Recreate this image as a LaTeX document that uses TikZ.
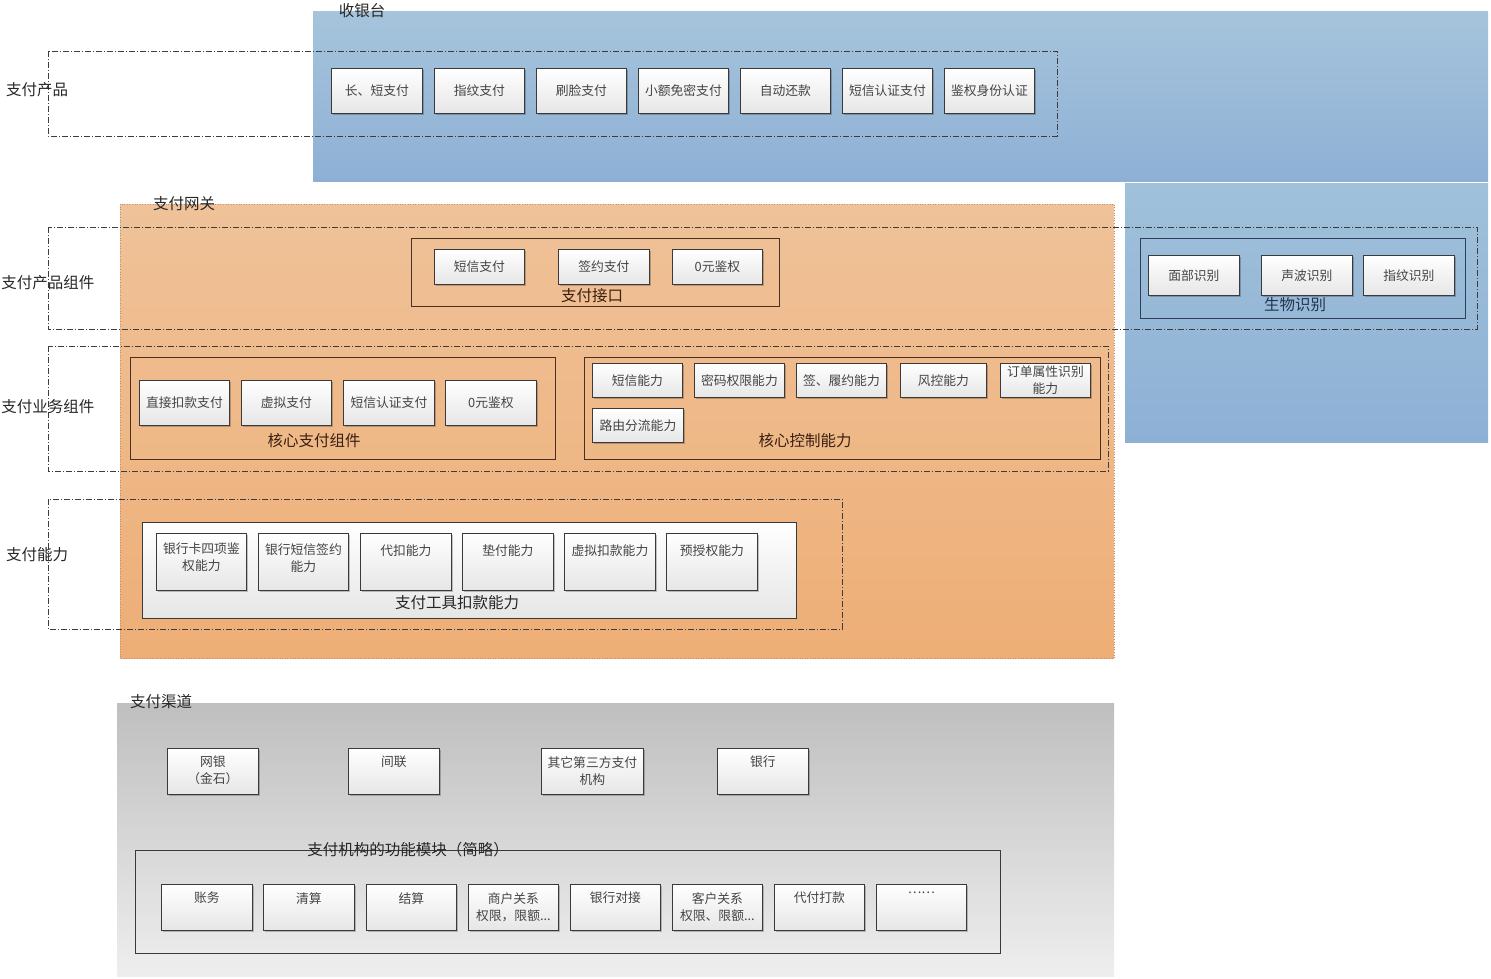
\documentclass[tikz,border=0pt]{standalone}
\usepackage{fontspec}
\setmainfont{Noto Sans CJK SC}
\usetikzlibrary{shadows}
\definecolor{bluetop}{HTML}{A6C4DB}
\definecolor{bluebot}{HTML}{8EB0D5}
\definecolor{bluemid}{HTML}{A0C1DA}
\definecolor{ortop}{HTML}{EFC299}
\definecolor{orbot}{HTML}{EEAE76}
\definecolor{orline}{HTML}{C09070}
\definecolor{grtop}{HTML}{BFBFBF}
\definecolor{grbot}{HTML}{EEEEEE}
\definecolor{boxline}{HTML}{3A3A3A}
\definecolor{boxbot}{HTML}{E6E6E6}
\definecolor{boxtext}{HTML}{444444}
\definecolor{lbltext}{HTML}{262626}
\definecolor{brownline}{HTML}{4A3020}
\definecolor{browntext}{HTML}{3A2010}
\definecolor{bluegline}{HTML}{2E4058}
\definecolor{bluetext}{HTML}{25354D}
\definecolor{dashcol}{HTML}{3C3C3C}
\tikzset{
  box/.style={draw=boxline, line width=0.8pt, top color=white, bottom color=boxbot,
    anchor=north west, inner sep=0pt,
    drop shadow={shadow xshift=1.5pt, shadow yshift=-1.5pt, opacity=0.22, fill=black}},
  boxtxt/.style={font=\fontsize{12.8}{17}\selectfont, text=boxtext, align=center, inner sep=0pt},
  sect/.style={font=\fontsize{15.5}{18}\selectfont, text=lbltext, inner sep=0pt},
  grp/.style={draw=brownline, line width=0.8pt, anchor=north west, inner sep=0pt},
  grpb/.style={draw=bluegline, line width=0.8pt, anchor=north west, inner sep=0pt},
  grpw/.style={draw=boxline, line width=0.8pt, anchor=north west, inner sep=0pt, top color=white, bottom color=boxbot},
  grpg/.style={draw=boxline, line width=0.8pt, anchor=north west, inner sep=0pt},
  dd/.style={draw=dashcol, line width=0.6pt, dash pattern=on 6pt off 2pt on 1pt off 2pt},
}
% name, x, y, w, h, text offset from top (0 = centred), text
\newcommand{\tbox}[7]{%
  \node[box, minimum width=#4pt, minimum height=#5pt] (#1) at (#2,#3) {};
  \ifdim #6pt=0pt
    \node[boxtxt] (#1t) at (#1.center) {#7};
  \else
    \node[boxtxt, anchor=north] (#1t) at ([yshift=-#6pt]#1.north) {#7};
  \fi}
\begin{document}
\begin{tikzpicture}[x=1pt,y=-1pt]
\useasboundingbox (0,0) rectangle (1491,978);
% ---- regions
\fill[top color=bluetop, bottom color=bluebot] (313,11) rectangle (1488,181);
\fill[top color=bluemid, bottom color=bluebot] (1125,183) rectangle (1488,442);
\path[draw=orline, dotted, line width=0.6pt, top color=ortop, bottom color=orbot] (120,204) rectangle (1114,658);
\fill[top color=grtop, bottom color=grbot] (117,703) rectangle (1114,976);
\node[sect] (rA) at (362,11) {收银台};
\node[sect] (rB) at (184,204) {支付网关};
\node[sect] (rC) at (161,702) {支付渠道};
% ---- dashed layers
\draw[dd] (48,51) rectangle (1057,136);
\draw[dd] (48,227) rectangle (1477,329);
\draw[dd] (48,346) rectangle (1108,471);
\draw[dd] (48,499) rectangle (842,629);
\node[sect] (lA) at (37,90) {支付产品};
\node[sect] (lB) at (48,283) {支付产品组件};
\node[sect] (lC) at (48,407) {支付业务组件};
\node[sect] (lD) at (37,555) {支付能力};
% ---- products
\tbox{p1}{331}{68}{91}{45}{0}{长、短支付}
\tbox{p2}{434}{68}{90}{45}{0}{指纹支付}
\tbox{p3}{536}{68}{90}{45}{0}{刷脸支付}
\tbox{p4}{638}{68}{90}{45}{0}{小额免密支付}
\tbox{p5}{740}{68}{90}{45}{0}{自动还款}
\tbox{p6}{842}{68}{90}{45}{0}{短信认证支付}
\tbox{p7}{944}{68}{90}{45}{0}{鉴权身份认证}
% ---- 支付接口
\node[grp, minimum width=368pt, minimum height=68pt] (gJK) at (411,238) {};
\tbox{j1}{434}{249}{90}{35}{0}{短信支付}
\tbox{j2}{558}{249}{91}{35}{0}{签约支付}
\tbox{j3}{672}{249}{90}{35}{0}{0元鉴权}
\node[sect, text=browntext] (gJKt) at (592,296) {支付接口};
% ---- 生物识别
\node[grpb, minimum width=325pt, minimum height=80pt] (gSW) at (1140,238) {};
\tbox{s1}{1148}{255}{91}{40}{0}{面部识别}
\tbox{s2}{1261}{255}{91}{40}{0}{声波识别}
\tbox{s3}{1363}{255}{91}{40}{0}{指纹识别}
\node[sect, text=bluetext] (gSWt) at (1295,305) {生物识别};
% ---- 核心支付组件
\node[grp, minimum width=425pt, minimum height=102pt] (gHX) at (130,357) {};
\tbox{h1}{139}{380}{90}{45}{0}{直接扣款支付}
\tbox{h2}{241}{380}{90}{45}{0}{虚拟支付}
\tbox{h3}{343}{380}{91}{45}{0}{短信认证支付}
\tbox{h4}{445}{380}{91}{45}{0}{0元鉴权}
\node[sect, text=browntext] (gHXt) at (314,441) {核心支付组件};
% ---- 核心控制能力
\node[grp, minimum width=516pt, minimum height=102pt] (gKZ) at (584,357) {};
\tbox{k1}{592}{363}{90}{34}{0}{短信能力}
\tbox{k2}{694}{363}{90}{34}{0}{密码权限能力}
\tbox{k3}{796}{363}{90}{34}{0}{签、履约能力}
\tbox{k4}{900}{363}{86}{34}{0}{风控能力}
\tbox{k5}{1000}{363}{90}{34}{0}{订单属性识别\\能力}
\tbox{k6}{592}{408}{91}{34}{0}{路由分流能力}
\node[sect, text=browntext] (gKZt) at (805,441) {核心控制能力};
% ---- 支付工具扣款能力
\node[grpw, minimum width=654pt, minimum height=96pt] (gGJ) at (142,522) {};
\tbox{g1}{156}{533}{90}{57}{10}{银行卡四项鉴\\权能力}
\tbox{g2}{258}{533}{90}{57}{10}{银行短信签约\\能力}
\tbox{g3}{360}{533}{91}{57}{12}{代扣能力}
\tbox{g4}{462}{533}{91}{57}{12}{垫付能力}
\tbox{g5}{564}{533}{91}{57}{12}{虚拟扣款能力}
\tbox{g6}{666}{533}{91}{57}{12}{预授权能力}
\node[sect, text=lbltext] (gGJt) at (457,603) {支付工具扣款能力};
% ---- 渠道
\tbox{c1}{167}{748}{91}{46}{8}{网银\\（金石）}
\tbox{c2}{348}{748}{91}{46}{8}{间联}
\tbox{c3}{541}{748}{102}{46}{8}{其它第三方支付\\机构}
\tbox{c4}{717}{748}{91}{46}{8}{银行}
% ---- 支付机构的功能模块
\node[grpg, minimum width=865pt, minimum height=103pt] (gMK) at (135,850) {};
\node[sect] (gMKt) at (408,850) {支付机构的功能模块（简略）};
\tbox{m1}{161}{884}{91}{46}{8}{账务}
\tbox{m2}{263}{884}{91}{46}{8}{清算}
\tbox{m3}{366}{884}{90}{46}{8}{结算}
\tbox{m4}{468}{884}{90}{46}{8}{商户关系\\权限，限额...}
\tbox{m5}{570}{884}{90}{46}{8}{银行对接}
\tbox{m6}{672}{884}{90}{46}{8}{客户关系\\权限、限额...}
\tbox{m7}{774}{884}{90}{46}{8}{代付打款}
\tbox{m8}{876}{884}{90}{46}{8}{……}
\end{tikzpicture}
\end{document}
